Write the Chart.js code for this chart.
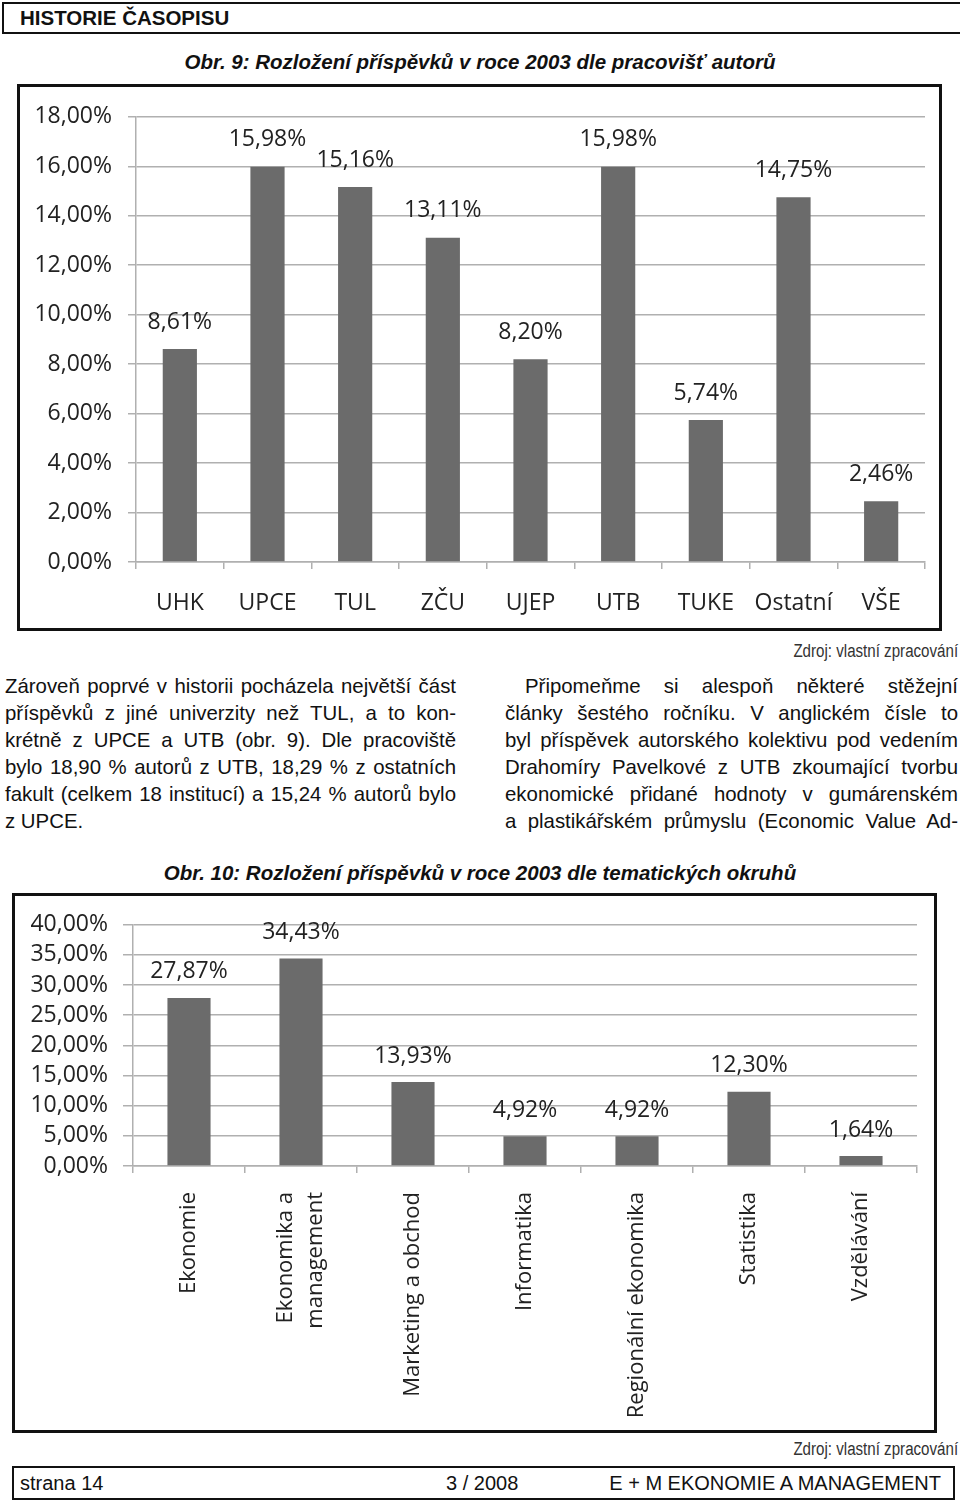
<!DOCTYPE html>
<html>
<head>
<meta charset="utf-8">
<script src="https://cdn.jsdelivr.net/npm/chart.js@4"></script>
<style>
  body { margin: 0; background: #fff; }
  #page { position: relative; width: 960px; height: 1501px; overflow: hidden; background: #fff; color: #111; font-family: "Liberation Sans", Arial, sans-serif; }
  .abs { position: absolute; }
  .header { left: 2px; top: 2px; width: 970px; height: 28px; border: 2px solid #111; }
  .header span { position: absolute; left: 16px; top: 2px; font-weight: bold; font-size: 20.5px; }
  .title { left: 0; width: 960px; text-align: center; font-weight: bold; font-style: italic; font-size: 20.5px; }
  .chartbox { border: 3px solid #111; }
  .line { font-size: 20.4px; line-height: 27px; height: 27px; text-align: justify; text-align-last: justify; white-space: nowrap; }
  .line.last { text-align-last: left; }
  .src { font-size: 18px; color: #333; right: 2px; transform: scaleX(0.84); transform-origin: right center; }
  .footer { left: 12px; top: 1466px; width: 939px; height: 30px; border: 2px solid #111; font-size: 20px; }
  .footer span { position: absolute; top: 4px; }
</style>
</head>
<body>
<div id="page">
  <div class="abs header"><span>HISTORIE ČASOPISU</span></div>
  <div class="abs title" style="top:50px;">Obr. 9: Rozložení příspěvků v roce 2003 dle pracovišť autorů</div>
  <div class="abs chartbox" style="left:17px; top:84px; width:919px; height:541px;">
    <canvas id="chart9" width="919" height="541"></canvas>
  </div>

  <div class="abs src" style="top:641px;">Zdroj: vlastní zpracování</div>

  <div class="abs" style="left:5px; top:673px; width:451px;">
    <div class="line">Zároveň poprvé v historii pocházela největší část</div>
    <div class="line">příspěvků z jiné univerzity než TUL, a to kon-</div>
    <div class="line">krétně z UPCE a UTB (obr. 9). Dle pracoviště</div>
    <div class="line">bylo 18,90 % autorů z UTB, 18,29 % z ostatních</div>
    <div class="line">fakult (celkem 18 institucí) a 15,24 % autorů bylo</div>
    <div class="line last">z UPCE.</div>
  </div>
  <div class="abs" style="left:505px; top:673px; width:453px;">
    <div class="line" style="padding-left:20px;">Připomeňme si alespoň některé stěžejní</div>
    <div class="line">články šestého ročníku. V anglickém čísle to</div>
    <div class="line">byl příspěvek autorského kolektivu pod vedením</div>
    <div class="line">Drahomíry Pavelkové z UTB zkoumající tvorbu</div>
    <div class="line">ekonomické přidané hodnoty v gumárenském</div>
    <div class="line">a plastikářském průmyslu (Economic Value Ad-</div>
  </div>

  <div class="abs title" style="top:861px;">Obr. 10: Rozložení příspěvků v roce 2003 dle tematických okruhů</div>
  <div class="abs chartbox" style="left:12px; top:893px; width:919px; height:534px;">
    <canvas id="chart10" width="919" height="534"></canvas>
  </div>

  <div class="abs src" style="top:1439px;">Zdroj: vlastní zpracování</div>

  <div class="abs footer">
    <span style="left:6px;">strana 14</span>
    <span style="left:432px;">3 / 2008</span>
    <span style="right:12px;">E + M EKONOMIE A MANAGEMENT</span>
  </div>
</div>

<script>
// data - obr. 9
var pracoviste = ['UHK', 'UPCE', 'TUL', 'ZČU', 'UJEP', 'UTB', 'TUKE', 'Ostatní', 'VŠE'];
var podilPracoviste = [8.61, 15.98, 15.16, 13.11, 8.20, 15.98, 5.74, 14.75, 2.46];
var osaPracovisteMax = 18;
var osaPracovisteKrok = 2;

// data - obr. 10
var okruhy = ['Ekonomie', ['Ekonomika a', 'management'], 'Marketing a obchod', 'Informatika', 'Regionální ekonomika', 'Statistika', 'Vzdělávání'];
var podilOkruhy = [27.87, 34.43, 13.93, 4.92, 4.92, 12.30, 1.64];
var osaOkruhyMax = 40;
var osaOkruhyKrok = 5;

var barColor = '#6b6b6b';
var gridColor = '#b0b0b0';
var textColor = '#222';
var fontFamily = '"Open Sans", sans-serif';
var chartFont = { family: fontFamily, size: 23 };

function fmtPct(v) {
  return Number(v).toFixed(2).replace('.', ',') + '%';
}

// popisky hodnot nad sloupci
var valueLabels = {
  id: 'valueLabels',
  afterDatasetsDraw: function(chart, args, opts) {
    var ctx = chart.ctx;
    var meta = chart.getDatasetMeta(0);
    var data = chart.data.datasets[0].data;
    ctx.save();
    ctx.font = opts.size + 'px ' + fontFamily;
    ctx.fillStyle = textColor;
    ctx.textAlign = 'center';
    ctx.textBaseline = 'middle';
    for (var i = 0; i < meta.data.length; i++) {
      var bar = meta.data[i];
      ctx.fillText(fmtPct(data[i]), bar.x, bar.y - opts.offset);
    }
    ctx.restore();
  }
};

// svisle popisky osy x (vicradkove vycentrovane na sloupec)
var rotatedLabels = {
  id: 'rotatedLabels',
  afterDraw: function(chart, args, opts) {
    if (!opts.enabled) return;
    var ctx = chart.ctx;
    var scale = chart.scales.x;
    var labels = chart.data.labels;
    ctx.save();
    ctx.font = opts.size + 'px ' + fontFamily;
    ctx.fillStyle = textColor;
    ctx.textAlign = 'right';
    ctx.textBaseline = 'middle';
    for (var i = 0; i < labels.length; i++) {
      var lines = [].concat(labels[i]);
      var x = scale.getPixelForTick(i);
      ctx.save();
      ctx.translate(x, scale.top + opts.offset);
      ctx.rotate(-Math.PI / 2);
      for (var j = 0; j < lines.length; j++) {
        ctx.fillText(lines[j], 0, (j - (lines.length - 1) / 2) * opts.lineHeight);
      }
      ctx.restore();
    }
    ctx.restore();
  }
};

function makeChart(id, labels, values, cfg) {
  return new Chart(document.getElementById(id), {
    type: 'bar',
    data: {
      labels: labels,
      datasets: [{
        data: values,
        backgroundColor: barColor,
        categoryPercentage: 1,
        barPercentage: cfg.barPct
      }]
    },
    plugins: [valueLabels, rotatedLabels],
    options: {
      responsive: false,
      animation: false,
      devicePixelRatio: 1,
      layout: { padding: { top: cfg.padTop, right: cfg.padRight, left: 0, bottom: 0 } },
      plugins: {
        legend: { display: false },
        tooltip: { enabled: false },
        valueLabels: { size: 23, offset: cfg.labelOffset },
        rotatedLabels: { enabled: cfg.rotated, size: 22, offset: 26, lineHeight: 30 }
      },
      scales: {
        x: {
          grid: { drawOnChartArea: false, tickLength: 7, color: gridColor, lineWidth: 1.5 },
          border: { color: gridColor, width: 1.5 },
          ticks: {
            display: !cfg.rotated,
            font: chartFont,
            color: textColor,
            padding: cfg.xPad,
            autoSkip: false,
            maxRotation: 0
          },
          afterFit: function(s) { s.height = cfg.xHeight; }
        },
        y: {
          min: 0,
          max: cfg.max,
          grid: { color: gridColor, lineWidth: 1.5, tickLength: cfg.yTick },
          border: { color: gridColor, width: 1.5 },
          ticks: {
            stepSize: cfg.step,
            autoSkip: false,
            font: chartFont,
            color: textColor,
            padding: cfg.yPad,
            callback: function(v) { return fmtPct(v); }
          },
          afterFit: function(s) { s.width = cfg.yWidth; }
        }
      }
    }
  });
}

makeChart('chart9', pracoviste, podilPracoviste, {
  barPct: 0.39, padTop: 18, padRight: 14, xHeight: 66, xPad: 21, rotated: false,
  max: osaPracovisteMax, step: osaPracovisteKrok, yTick: 8, yPad: 16, yWidth: 116, labelOffset: 27
});

makeChart('chart10', okruhy, podilOkruhy, {
  barPct: 0.385, padTop: 22, padRight: 17, xHeight: 264, xPad: 16, rotated: true,
  max: osaOkruhyMax, step: osaOkruhyKrok, yTick: 10, yPad: 15, yWidth: 118, labelOffset: 26
});
</script>
</body>
</html>
